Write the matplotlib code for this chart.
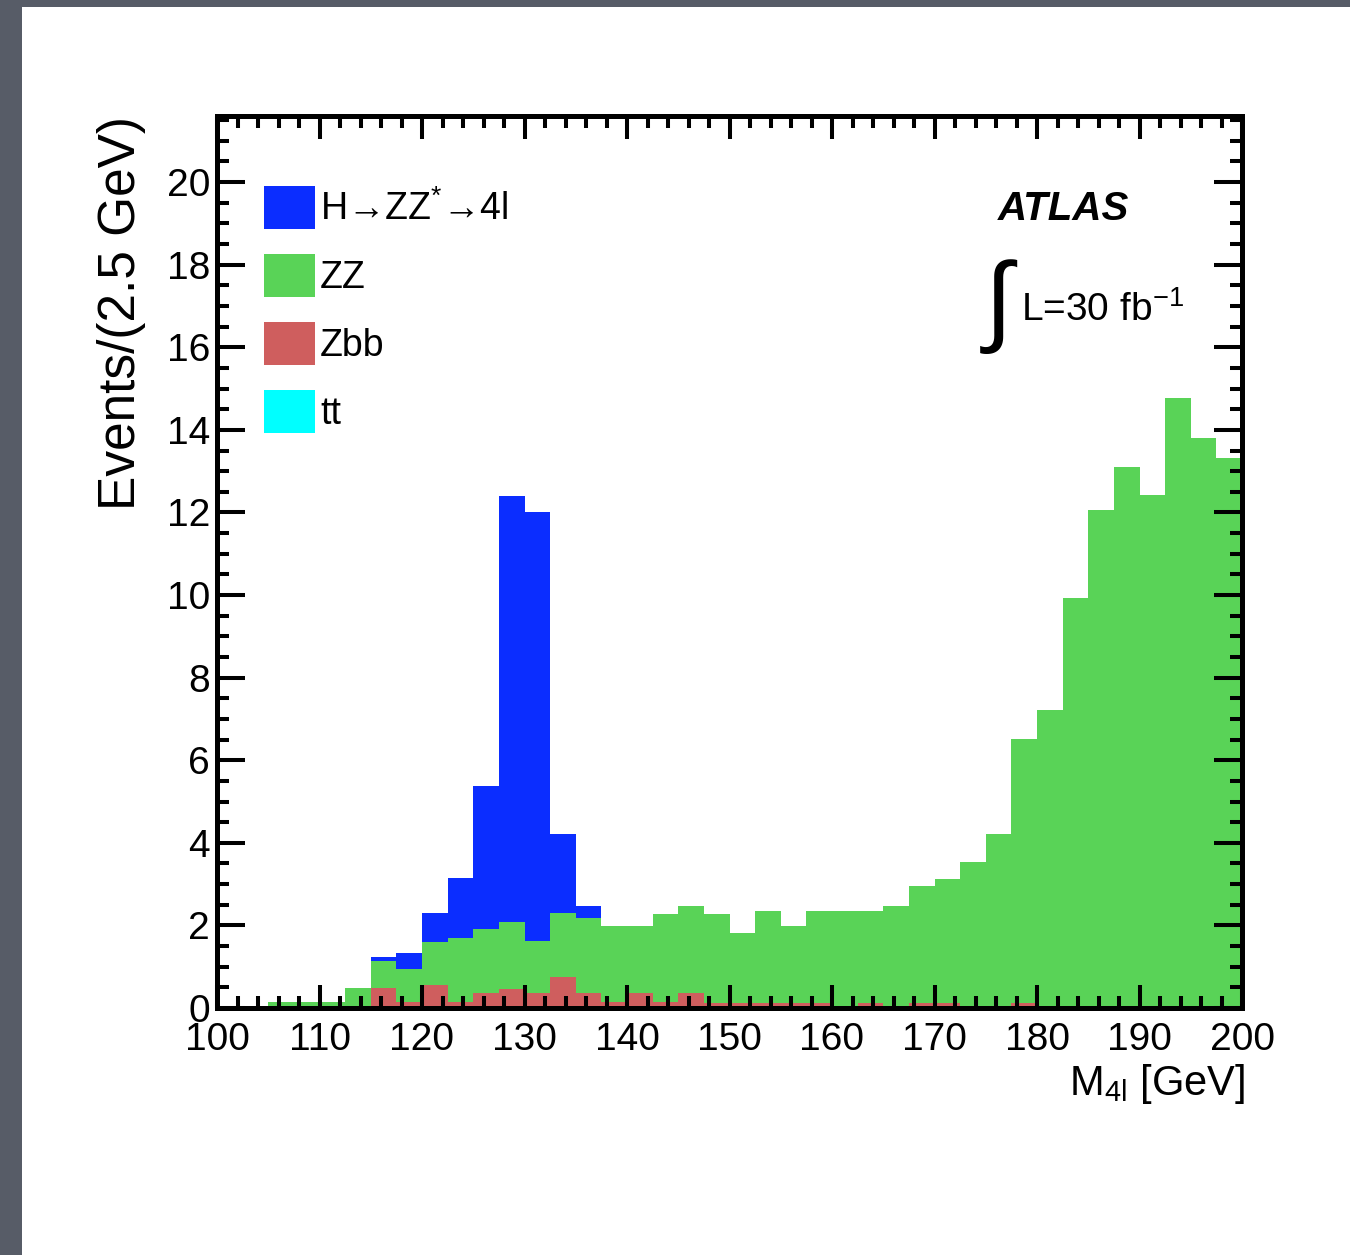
"""ATLAS H->ZZ*->4l stacked M4l histogram (30 fb-1)."""

import numpy as np
import matplotlib
matplotlib.use("Agg")
import matplotlib.pyplot as plt
from matplotlib.patches import Rectangle
from matplotlib.ticker import MultipleLocator

plt.rcParams["font.family"] = ["Liberation Sans", "DejaVu Sans"]
plt.rcParams["mathtext.default"] = "regular"

# bin edges: 40 bins of 2.5 GeV from 100 to 200
edges = np.linspace(100, 200, 41)

# per-process events per bin
tt = np.zeros(40)
zbb = np.array([0, 0, 0, 0, 0, 0, 0.48, 0.15, 0.56, 0.15,
                0.36, 0.45, 0.36, 0.74, 0.36, 0.15, 0.36, 0.15, 0.36, 0.12,
                0.12, 0.12, 0.12, 0.12, 0, 0.12, 0, 0.12, 0.12, 0,
                0, 0.12, 0, 0, 0, 0, 0, 0, 0, 0])
zz = np.array([0, 0, 0.15, 0.15, 0.15, 0.48, 0.67, 0.79, 1.05, 1.54,
               1.55, 1.64, 1.26, 1.55, 1.83, 1.84, 1.63, 2.13, 2.11, 2.16,
               1.69, 2.24, 1.87, 2.24, 2.36, 2.24, 2.47, 2.83, 3.01, 3.54,
               4.21, 6.40, 7.21, 9.93, 12.05, 13.10, 12.43, 14.76, 13.80, 13.31])
higgs = np.array([0, 0, 0, 0, 0, 0, 0.08, 0.39, 0.69, 1.46,
                  3.47, 10.31, 10.40, 1.92, 0.29, 0, 0, 0, 0, 0,
                  0, 0, 0, 0, 0, 0, 0, 0, 0, 0,
                  0, 0, 0, 0, 0, 0, 0, 0, 0, 0])

names = [r"H→ZZ$^{*}$→4l", "ZZ", "Zbb", "tt"]
colors = ["#0b2dff", "#59d357", "#cf5e5e", "#00ffff"]

fig = plt.figure(figsize=(13.5, 12.55), dpi=100)
fig.patch.set_facecolor("#575c67")
fig.patches.append(Rectangle((22 / 1350, 0), 1, 1 - 7 / 1255,
                             transform=fig.transFigure, facecolor="white",
                             edgecolor="none", zorder=-5))

ax = fig.add_axes([217 / 1350, 1 - 1008 / 1255, 1025 / 1350, 892 / 1255])

# stack from bottom: tt, Zbb, ZZ, H
stack = [tt, zbb, zz, higgs]
stack_colors = colors[::-1]
base = np.zeros(40)
handles = []
for vals, col in zip(stack, stack_colors):
    top = base + vals
    h = ax.stairs(top, edges, baseline=base, fill=True, color=col, lw=0)
    handles.append(h)
    base = top
handles = handles[::-1]

ax.set_xlim(100, 200)
ax.set_ylim(0, 21.6)
ax.xaxis.set_major_locator(MultipleLocator(10))
ax.xaxis.set_minor_locator(MultipleLocator(2))
ax.yaxis.set_major_locator(MultipleLocator(2))
ax.yaxis.set_minor_locator(MultipleLocator(0.5))

for s in ax.spines.values():
    s.set_linewidth(3.6)
    s.set_zorder(10)
ax.tick_params(axis="both", which="both", direction="in", top=True, right=True,
               width=2.9, labelsize=28)
ax.tick_params(axis="x", which="major", length=16.5, pad=10)
ax.tick_params(axis="x", which="minor", length=8.5)
ax.tick_params(axis="y", which="major", length=20, pad=5)
ax.tick_params(axis="y", which="minor", length=8.5)

ax.set_ylabel("Events/(2.5 GeV)", loc="top", fontsize=37)
ax.yaxis.set_label_coords(-0.069, 1.0)
ax.set_xlabel(r"M$_{4l}$ [GeV]", loc="right", fontsize=30)
ax.xaxis.set_label_coords(1.003, -0.06)
ax.xaxis.label.set_va("top")

ax.legend(handles, names, loc="upper left", bbox_to_anchor=(0.046, 0.922),
          frameon=False, fontsize=27, borderpad=0, borderaxespad=0,
          handlelength=1.36, handleheight=1.4, handletextpad=0.13,
          labelspacing=0.66)

ax.text(0.762, 0.917, "ATLAS", transform=ax.transAxes, fontsize=29,
        fontweight="bold", fontstyle="italic", va="top", ha="left")
ax.text(0.763, 0.786, r"$\int$", transform=ax.transAxes, fontsize=72,
        math_fontfamily="cm", va="center", ha="center")
ax.text(0.784, 0.782, r"L=30 fb$^{-1}$", transform=ax.transAxes, fontsize=28,
        va="center", ha="left")

fig.savefig("out.png", dpi=100, facecolor=fig.get_facecolor())
